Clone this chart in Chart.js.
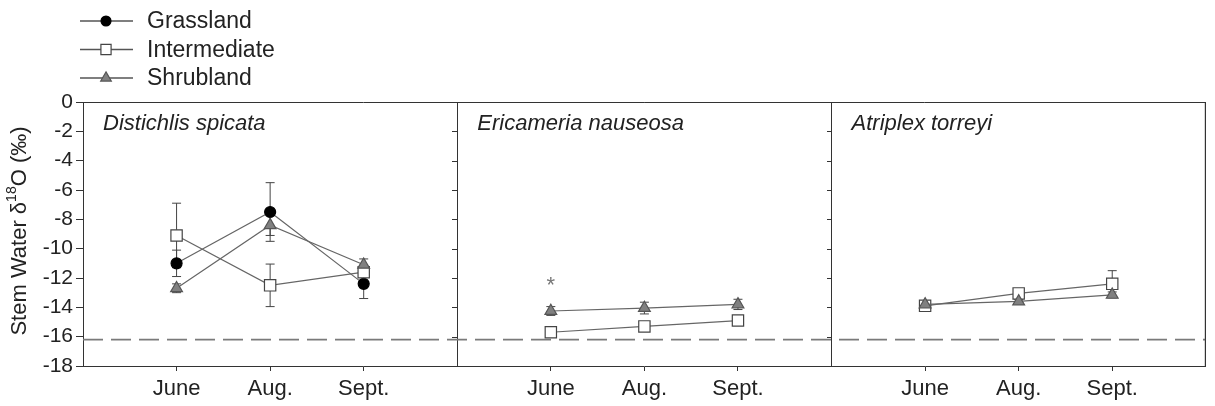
<!DOCTYPE html>
<html>
<head>
<meta charset="utf-8">
<script src="https://cdn.jsdelivr.net/npm/chart.js@4.4.0/dist/chart.umd.min.js"></script>
<style>
  body { margin: 0; background: #fff; }
  canvas { display: block; }
</style>
</head>
<body>
<canvas id="chart" width="1215" height="406"></canvas>
<script>
const months = ["June", "Aug.", "Sept."]
const species = ["Distichlis spicata", "Ericameria nauseosa", "Atriplex torreyi"]

// one row per panel (species), null = not sampled there
const grassland       = [[-11.0, -7.5, -12.4], null, null]
const grasslandErr    = [[0.9, 2.0, 1.0], null, null]
const intermediate    = [[-9.1, -12.5, -11.6], [-15.7, -15.3, -14.9], [-13.9, -13.05, -12.4]]
const intermediateErr = [[2.2, 1.45, 0.3], [0.2, 0.2, 0.25], [0.2, 0.2, 0.9]]
const shrubland       = [[-12.7, -8.4, -11.1], [-14.25, -14.05, -13.8], [-13.8, -13.6, -13.15]]
const shrublandErr    = [[0.3, 0.7, 0.4], [0.3, 0.4, 0.35], [0.2, 0.15, 0.2]]
const dashedLevel = -16.2
const asterisk = { panel: 1, month: 0, y: -12.3, text: "*" }

const FONT = '"Liberation Sans", Arial, Helvetica, sans-serif'
Chart.defaults.font.family = FONT
Chart.defaults.color = '#222'

// each panel spans 4 units on the x axis, months sit at 1,2,3
const posOf = (panel, m) => panel * 4 + m + 1

function toPoints(vals, errs) {
  const pts = []
  vals.forEach((row, p) => {
    if (!row) return
    row.forEach((v, m) => pts.push({ x: posOf(p, m), y: v, err: errs[p][m] }))
    pts.push({ x: p * 4 + 4, y: null })   // break the line between panels
  })
  return pts
}

const seriesStyle = [
  { label: "Grassland", style: "circle", radius: 5.5, fill: "#000", stroke: "#000" },
  { label: "Intermediate", style: "rect", radius: 8, fill: "#fff", stroke: "#444" },
  { label: "Shrubland", style: "triangle", radius: 6.8, fill: "#808080", stroke: "#555" }
]

function makeSet(i, vals, errs, order) {
  const s = seriesStyle[i]
  return {
    label: s.label,
    data: toPoints(vals, errs),
    borderColor: "#666",
    borderWidth: 1.2,
    pointStyle: s.style,
    pointRadius: s.radius,
    pointBackgroundColor: s.fill,
    pointBorderColor: s.stroke,
    pointBorderWidth: 1.2,
    spanGaps: false,
    order: order,
    errorBars: true
  }
}

function marker(ctx, style, x, y, r, fill, stroke) {
  ctx.save()
  ctx.fillStyle = fill
  ctx.strokeStyle = stroke
  ctx.lineWidth = 1.2
  ctx.beginPath()
  if (style === "circle") {
    ctx.arc(x, y, r, 0, Math.PI * 2)
  } else if (style === "rect") {
    const h = r * Math.SQRT1_2
    ctx.rect(x - h, y - h, 2 * h, 2 * h)
  } else {
    let a = 0
    ctx.moveTo(x + Math.sin(a) * r, y - Math.cos(a) * r)
    a += 2 * Math.PI / 3
    ctx.lineTo(x + Math.sin(a) * r, y - Math.cos(a) * r)
    a += 2 * Math.PI / 3
    ctx.lineTo(x + Math.sin(a) * r, y - Math.cos(a) * r)
    ctx.closePath()
  }
  ctx.fill()
  ctx.stroke()
  ctx.restore()
}

const errorBarPlugin = {
  id: "errorBars",
  beforeDatasetsDraw(chart) {
    const ctx = chart.ctx, xs = chart.scales.x, ys = chart.scales.y
    ctx.save()
    ctx.strokeStyle = "#444"
    ctx.lineWidth = 1
    chart.data.datasets.forEach(ds => {
      if (!ds.errorBars) return
      ds.data.forEach(p => {
        if (p.y === null || !p.err) return
        const x = xs.getPixelForValue(p.x)
        const y1 = ys.getPixelForValue(p.y + p.err)
        const y2 = ys.getPixelForValue(p.y - p.err)
        ctx.beginPath()
        ctx.moveTo(x, y1); ctx.lineTo(x, y2)
        ctx.moveTo(x - 4.5, y1); ctx.lineTo(x + 4.5, y1)
        ctx.moveTo(x - 4.5, y2); ctx.lineTo(x + 4.5, y2)
        ctx.stroke()
      })
    })
    ctx.restore()
  }
}

const decorPlugin = {
  id: "decor",
  afterDraw(chart) {
    const ctx = chart.ctx, a = chart.chartArea
    const xs = chart.scales.x, ys = chart.scales.y
    ctx.save()
    // box top and right
    ctx.strokeStyle = "#333"
    ctx.lineWidth = 1
    ctx.beginPath()
    ctx.moveTo(a.left, a.top + 0.5); ctx.lineTo(a.right - 0.5, a.top + 0.5); ctx.lineTo(a.right - 0.5, a.bottom)
    ctx.stroke()
    // y tick marks on each panel's left axis
    ys.ticks.forEach(t => {
      const y = Math.round(ys.getPixelForValue(t.value)) + 0.5
      ;[4, 8].forEach(v => {
        const x = Math.round(xs.getPixelForValue(v))
        ctx.beginPath(); ctx.moveTo(x - 5, y); ctx.lineTo(x, y); ctx.stroke()
      })
    })
    // panel titles
    ctx.fillStyle = "#222"
    ctx.font = "italic 22px " + FONT
    ctx.textBaseline = "middle"
    ctx.textAlign = "left"
    species.forEach((s, p) => ctx.fillText(s, xs.getPixelForValue(p * 4) + 20, a.top + 22))
    // significance mark
    ctx.fillStyle = "#777"
    ctx.font = "22px " + FONT
    ctx.textAlign = "center"
    ctx.fillText(asterisk.text, xs.getPixelForValue(posOf(asterisk.panel, asterisk.month)), ys.getPixelForValue(asterisk.y) + 4)
    // y axis title with superscript
    ctx.fillStyle = "#222"
    ctx.translate(20, (a.top + a.bottom) / 2 - 3)
    ctx.rotate(-Math.PI / 2)
    ctx.textAlign = "left"
    const parts = [["Stem Water δ", 22, 0], ["18", 14, -8], ["O (‰)", 22, 0]]
    let total = 0
    parts.forEach(p => { ctx.font = p[1] + "px " + FONT; total += ctx.measureText(p[0]).width })
    let cx = -total / 2
    parts.forEach(p => {
      ctx.font = p[1] + "px " + FONT
      ctx.fillText(p[0], cx, p[2])
      cx += ctx.measureText(p[0]).width
    })
    ctx.restore()
    // legend
    ctx.save()
    const rows = [21, 49.5, 78]
    seriesStyle.forEach((s, i) => {
      const y = rows[i]
      ctx.strokeStyle = "#555"
      ctx.lineWidth = 1.5
      ctx.beginPath(); ctx.moveTo(80, y); ctx.lineTo(133, y); ctx.stroke()
      marker(ctx, s.style, 106, y, s.radius * 0.9, s.fill, s.stroke)
      ctx.fillStyle = "#222"
      ctx.font = "23px " + FONT
      ctx.textBaseline = "middle"
      ctx.fillText(s.label, 147, y + 1)
    })
    ctx.restore()
  }
}

const mod4 = v => ((v % 4) + 4) % 4

new Chart(document.getElementById("chart"), {
  type: "line",
  data: {
    datasets: [
      makeSet(0, grassland, grasslandErr, 3),
      makeSet(1, intermediate, intermediateErr, 2),
      makeSet(2, shrubland, shrublandErr, 1),
      {
        label: "dashed",
        data: [{ x: 0, y: dashedLevel }, { x: 12, y: dashedLevel }],
        borderColor: "#7a7a7a",
        borderWidth: 1.6,
        borderDash: [20, 8],
        pointRadius: 0,
        order: 10
      }
    ]
  },
  options: {
    responsive: false,
    animation: false,
    devicePixelRatio: 1,
    layout: { padding: { top: 102, right: -2, left: 0, bottom: 0 } },
    plugins: { legend: { display: false }, tooltip: { enabled: false } },
    scales: {
      x: {
        type: "linear", min: 0, max: 12,
        afterFit: s => { s.height = 40; s.paddingLeft = 0; s.paddingRight = 0 },
        ticks: {
          stepSize: 1, autoSkip: false, maxRotation: 0, padding: 5,
          font: { size: 22 }, color: "#222",
          callback: v => { const m = mod4(v); return m >= 1 && m <= 3 ? months[m - 1] : "" }
        },
        grid: {
          drawOnChartArea: true,
          tickLength: 5,
          color: c => (c.tick && mod4(c.tick.value) === 0 ? "#333" : "transparent"),
          tickColor: c => (c.tick && mod4(c.tick.value) !== 0 ? "#333" : "transparent")
        },
        border: { color: "#333" }
      },
      y: {
        min: -18, max: 0,
        afterFit: s => { s.width = 83 },
        ticks: { stepSize: 2, autoSkip: false, padding: 3, font: { size: 21 }, color: "#222" },
        grid: { drawOnChartArea: false, tickLength: 7, color: "#333" },
        border: { color: "#333" }
      }
    }
  },
  plugins: [errorBarPlugin, decorPlugin]
})
</script>
</body>
</html>
